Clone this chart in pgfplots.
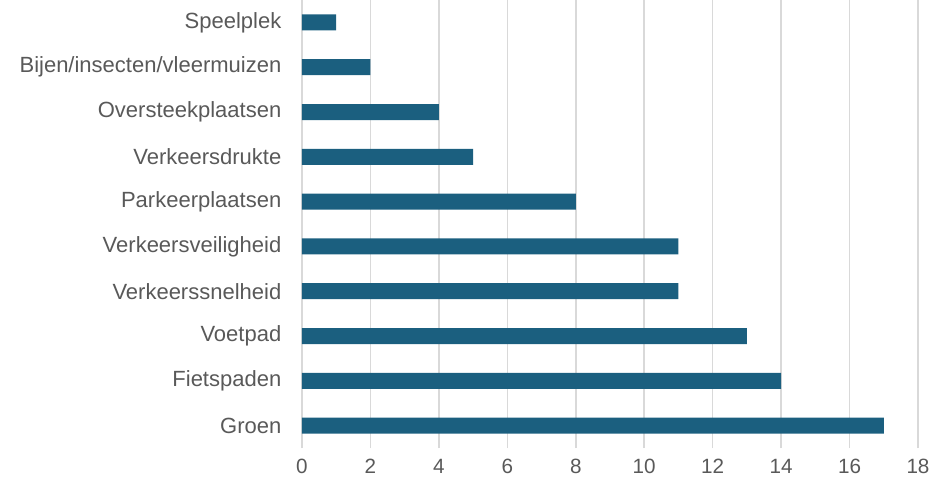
\documentclass[border=0pt]{standalone}
\usepackage{fontspec}
\setmainfont{Liberation Sans}
\usepackage{pgfplots}
\pgfplotsset{compat=1.18}
\definecolor{barblue}{HTML}{1B5F7F}
\definecolor{txtgray}{HTML}{595959}
\definecolor{gridgray}{HTML}{D9D9D9}

\begin{document}
\begin{tikzpicture}
\begin{axis}[
    at={(0,0)}, anchor=south west,
    scale only axis,
    width=462pt, height=336pt,
    xbar, bar width=12pt,
    xmin=0, xmax=18,
    ymin=-0.5, ymax=9.5,
    xtick={0,2,...,18},
    ytick={0,...,9},
    yticklabels={Groen,Fietspaden,Voetpad,Verkeerssnelheid,Verkeersveiligheid,Parkeerplaatsen,Verkeersdrukte,Oversteekplaatsen,Bijen/insecten/vleermuizen,Speelplek},
    axis line style={draw=none},
    major tick length=0pt,
    xmajorgrids,
    grid style={gridgray, line width=1.1pt},
    tick label style={text=txtgray},
    /pgf/number format/assume math mode=true,
    yticklabel style={xshift=-12pt, font=\fontsize{16.5}{19}\selectfont},
    xticklabel style={yshift=-5pt, font=\fontsize{15.5}{18}\selectfont},
]
\addplot[fill=barblue, draw=none] coordinates {
    (17,0) (14,1) (13,2) (11,3) (11,4) (8,5) (5,6) (4,7) (2,8) (1,9)
};
\end{axis}
\pgfresetboundingbox
\useasboundingbox (-226.5pt,-29.25pt) rectangle (475.5pt,336pt);
\end{tikzpicture}
\end{document}
